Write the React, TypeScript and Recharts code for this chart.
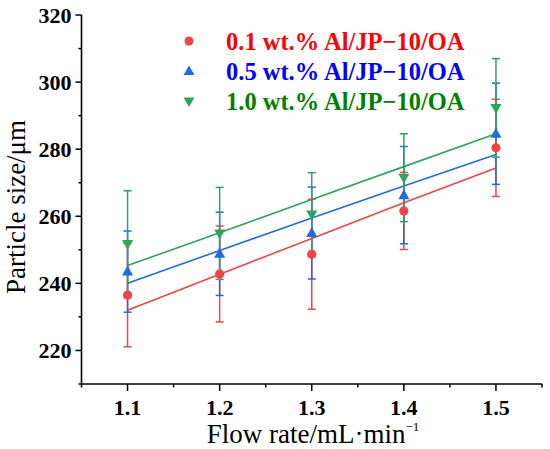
import React from 'react';
import {
    ComposedChart, Line, XAxis, YAxis, ErrorBar, Legend,
} from 'recharts';

// flow rate (mL/min) and particle size (um)
const flowRates = [1.1, 1.2, 1.3, 1.4, 1.5];

const size01 = [236.5, 242.8, 248.7, 261.6, 280.4];
const err01 = [15.4, 14.3, 16.4, 11.5, 14.5];
const fit01 = [232.0, 242.7, 253.4, 264.0, 274.4];

const size05 = [243.5, 248.8, 255.0, 266.3, 284.6];
const err05 = [12.1, 12.4, 13.7, 14.5, 15.1];
const fit05 = [240.0, 249.8, 259.5, 269.0, 278.4];

const size10 = [251.7, 254.9, 260.5, 271.5, 292.3];
const err10 = [15.9, 13.7, 12.5, 13.1, 14.7];
const fit10 = [245.3, 255.1, 265.0, 274.8, 284.6];

const seriesLabels = ['0.1 wt.% Al/JP\u221210/OA', '0.5 wt.% Al/JP\u221210/OA', '1.0 wt.% Al/JP\u221210/OA'];

const xTicks = [1.05, 1.1, 1.15, 1.2, 1.25, 1.3, 1.35, 1.4, 1.45, 1.5, 1.55];
const yTicks = [210, 220, 230, 240, 250, 260, 270, 280, 290, 300, 310, 320];

const RED = '#f24444';
const BLUE = '#1f6be0';
const GREEN = '#2ea55c';
const TEXT_COLORS = ['#ff0000', '#0000ff', '#008000'];
const FONT = '"Liberation Serif", "Times New Roman", serif';

const data = flowRates.map((x, i) => ({
    x,
    s01: size01[i], e01: err01[i], f01: fit01[i],
    s05: size05[i], e05: err05[i], f05: fit05[i],
    s10: size10[i], e10: err10[i], f10: fit10[i],
}));

function Circle(color: string) {
    return (p: any) => <circle key={`c${p.index}`} cx={p.cx} cy={p.cy} r={4.6} fill={color} />;
}

function TriUp(color: string) {
    return (p: any) => (
        <polygon
            key={`u${p.index}`}
            points={`${p.cx},${p.cy - 6} ${p.cx - 5.5},${p.cy + 4} ${p.cx + 5.5},${p.cy + 4}`}
            fill={color}
        />
    );
}

function TriDown(color: string) {
    return (p: any) => (
        <polygon
            key={`d${p.index}`}
            points={`${p.cx},${p.cy + 6} ${p.cx - 5.5},${p.cy - 4} ${p.cx + 5.5},${p.cy - 4}`}
            fill={color}
        />
    );
}

function YTick({ x, y, payload }: any) {
    const v = payload.value;
    const major = v % 20 === 0;
    return (
        <g>
            <line x1={x} x2={x - (major ? 6 : 3)} y1={y} y2={y} stroke="#000" strokeWidth={1.5} />
            {major && (
                <text x={x - 10} y={y} dy="0.35em" textAnchor="end" fontSize={22} fontWeight="bold" fill="#000" fontFamily={FONT}>
                    {v}
                </text>
            )}
        </g>
    );
}

function XTick({ x, y, payload }: any) {
    const v = payload.value;
    const major = Math.round(v * 100) % 10 === 0;
    return (
        <g>
            <line x1={x} x2={x} y1={y} y2={y + (major ? 7 : 3.5)} stroke="#000" strokeWidth={1.5} />
            {major && (
                <text x={x} y={y + 31} textAnchor="middle" fontSize={22} fontWeight="bold" fill="#000" fontFamily={FONT}>
                    {v.toFixed(1)}
                </text>
            )}
        </g>
    );
}

function LegendMarker({ i }: { i: number }) {
    const c = [RED, BLUE, GREEN][i];
    return (
        <svg width={20} height={30} style={{ display: 'block' }}>
            {i === 0 && <circle cx={10} cy={14} r={4.5} fill={c} />}
            {i === 1 && <polygon points="10,8.5 4.5,18 15.5,18" fill={c} />}
            {i === 2 && <polygon points="10,20 4.5,10.5 15.5,10.5" fill={c} />}
        </svg>
    );
}

function LegendBox() {
    return (
        <div style={{ fontFamily: FONT }}>
            {seriesLabels.map((label, i) => (
                <div key={label} style={{ display: 'flex', alignItems: 'center', height: 30 }}>
                    <LegendMarker i={i} />
                    <span
                        style={{
                            marginLeft: 27,
                            fontSize: 24.5,
                            fontWeight: 'bold',
                            lineHeight: '30px',
                            color: TEXT_COLORS[i],
                            whiteSpace: 'nowrap',
                        }}
                    >
                        {label}
                    </span>
                </div>
            ))}
        </div>
    );
}

export default function App() {
    return (
        <div style={{ position: 'absolute', left: 0, top: 0, background: '#fff' }}>
            <ComposedChart
                width={550}
                height={449}
                data={data}
                margin={{ top: 15, right: 8, bottom: 0, left: 0 }}
                style={{ fontFamily: FONT }}
            >
                <XAxis
                    dataKey="x"
                    type="number"
                    domain={[1.05, 1.55]}
                    ticks={xTicks}
                    interval={0}
                    height={65}
                    tickSize={0}
                    tickMargin={0}
                    tickLine={false}
                    tick={<XTick />}
                    axisLine={{ stroke: '#000', strokeWidth: 1.6 }}
                    label={{
                        content: () => (
                            <text x={313} y={443} textAnchor="middle" fontSize={27} fill="#000" fontFamily={FONT}>
                                Flow rate/mL·min
                                <tspan fontSize={13} dy={-12}>{'\u22121'}</tspan>
                            </text>
                        ),
                    }}
                />
                <XAxis
                    xAxisId="top"
                    orientation="top"
                    dataKey="x"
                    type="number"
                    domain={[1.05, 1.55]}
                    height={0}
                    tick={false}
                    tickLine={false}
                    axisLine={{ stroke: '#000', strokeWidth: 1.6 }}
                />
                <YAxis
                    type="number"
                    domain={[210, 320]}
                    ticks={yTicks}
                    interval={0}
                    width={81.5}
                    tickSize={0}
                    tickMargin={0}
                    tickLine={false}
                    tick={<YTick />}
                    axisLine={{ stroke: '#000', strokeWidth: 1.6 }}
                    label={{
                        content: () => (
                            <text
                                x={25}
                                y={207}
                                transform="rotate(-90 25 207)"
                                textAnchor="middle"
                                fontSize={27}
                                fill="#000"
                                fontFamily={FONT}
                            >
                                Particle size/μm
                            </text>
                        ),
                    }}
                />
                <YAxis
                    yAxisId="right"
                    orientation="right"
                    type="number"
                    domain={[210, 320]}
                    width={0}
                    tick={false}
                    tickLine={false}
                    axisLine={{ stroke: '#000', strokeWidth: 1.6 }}
                />
                <Legend
                    layout="horizontal"
                    verticalAlign="middle"
                    align="center"
                    wrapperStyle={{ left: 179, top: 27, width: 'auto' }}
                    content={() => <LegendBox />}
                />

                {/* linear fits */}
                <Line dataKey="f01" stroke={RED} strokeWidth={1.6} dot={false} activeDot={false} isAnimationActive={false} legendType="none" />
                <Line dataKey="f05" stroke={BLUE} strokeWidth={1.6} dot={false} activeDot={false} isAnimationActive={false} legendType="none" />
                <Line dataKey="f10" stroke={GREEN} strokeWidth={1.6} dot={false} activeDot={false} isAnimationActive={false} legendType="none" />

                {/* measured points with error bars */}
                <Line dataKey="s01" stroke="none" dot={Circle(RED)} activeDot={false} isAnimationActive={false}>
                    <ErrorBar dataKey="e01" direction="y" width={4} stroke={RED} strokeWidth={1.5} />
                </Line>
                <Line dataKey="s05" stroke="none" dot={TriUp(BLUE)} activeDot={false} isAnimationActive={false}>
                    <ErrorBar dataKey="e05" direction="y" width={4} stroke={BLUE} strokeWidth={1.5} />
                </Line>
                <Line dataKey="s10" stroke="none" dot={TriDown(GREEN)} activeDot={false} isAnimationActive={false}>
                    <ErrorBar dataKey="e10" direction="y" width={4} stroke={GREEN} strokeWidth={1.5} />
                </Line>
            </ComposedChart>
        </div>
    );
}
